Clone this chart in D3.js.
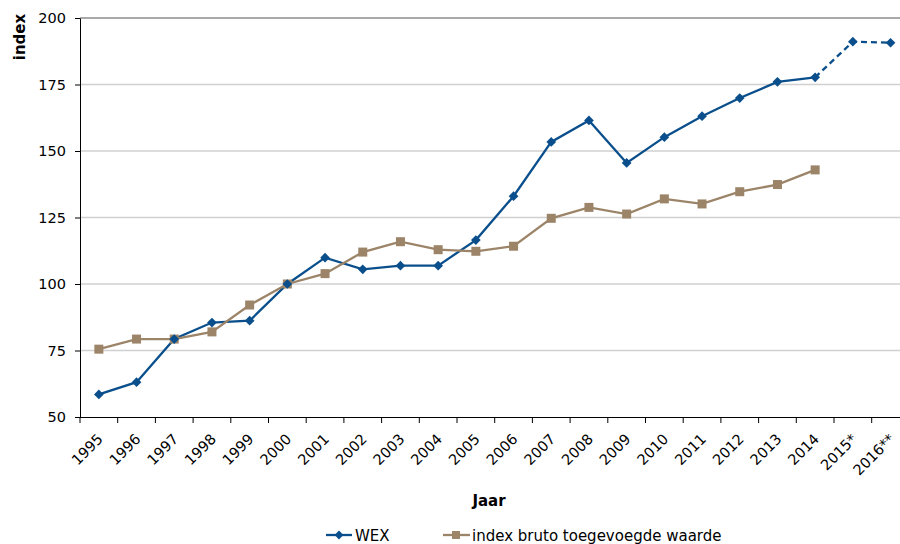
<!DOCTYPE html>
<html><head><meta charset="utf-8">
<script src="https://cdn.jsdelivr.net/npm/d3@7"></script>
<style>body{margin:0;background:#fff;}svg{display:block;font-family:"DejaVu Sans",Verdana,sans-serif;}</style>
</head><body>
<svg id="c" width="900" height="544"></svg>
<script>
const years = ["1995","1996","1997","1998","1999","2000","2001","2002","2003","2004","2005","2006","2007","2008","2009","2010","2011","2012","2013","2014","2015*","2016**"];
const wex = [58.5,63.1,79.3,85.5,86.2,100,109.9,105.5,106.9,106.9,116.5,133,153.4,161.5,145.5,155.2,163.1,169.9,176,177.7,191.1,190.7];
const bto = [75.5,79.3,79.3,82,92.1,100,103.9,112,115.9,112.9,112.3,114.2,124.7,128.8,126.3,132,130.1,134.7,137.4,142.9,null,null];
const yTicks = [50,75,100,125,150,175,200];
const seriesNames = ["WEX","index bruto toegevoegde waarde"];
const blue = "#0a4f8c", brown = "#9c8468";

const svg = d3.select("#c");
const L = 80, T = 18, B = 417, step = 37.7;
const x = d3.scaleBand().domain(years).range([L, L + step*years.length]).padding(0);
const y = d3.scaleLinear().domain([50,200]).range([B, T]);
const cx = d => x(d) + x.bandwidth()/2;

// gridlines
svg.append("g").selectAll("line").data(yTicks.filter(t=>t>50)).join("line")
  .attr("x1", L).attr("x2", 900).attr("y1", d=>y(d)).attr("y2", d=>y(d))
  .attr("stroke", d=> d===200 ? "#8c8c8c" : "#d0d0d0").attr("stroke-width", 1.3);

// y axis
const ya = svg.append("g").attr("transform",`translate(${L},0)`)
  .call(d3.axisLeft(y).tickValues(yTicks).tickSize(5).tickSizeOuter(0));
ya.select(".domain").attr("stroke","#000");
ya.selectAll(".tick line").attr("stroke","#000");
ya.selectAll(".tick text").attr("font-size","14.5px").attr("fill","#000").attr("font-family","DejaVu Sans, Verdana, sans-serif").attr("x",-14);

// x axis
const xa = svg.append("g").attr("transform",`translate(0,${B})`)
  .call(d3.axisBottom(x).tickSize(0).tickSizeOuter(0));
xa.select(".domain").attr("stroke","#000").attr("d", `M${L},0.5H900`);
xa.selectAll(".tick text").attr("font-size","14.5px").attr("fill","#000").attr("font-family","DejaVu Sans, Verdana, sans-serif")
  .attr("text-anchor","end").attr("dy",null).attr("y",0)
  .attr("transform","translate(5,23) rotate(-45)");
// tick marks between categories
svg.append("g").selectAll("line").data(years.map((d,i)=>i)).join("line")
  .attr("x1", i=>x(years[i])).attr("x2", i=>x(years[i])).attr("y1",B).attr("y2",B+6).attr("stroke","#000");

// lines
const line = d3.line().defined(d=>d.v!=null).x(d=>cx(d.k)).y(d=>y(d.v));
const wexD = years.map((k,i)=>({k,v:wex[i]}));
const btoD = years.map((k,i)=>({k,v:bto[i]}));
svg.append("path").datum(wexD.slice(0,20)).attr("d",line).attr("fill","none").attr("stroke",blue).attr("stroke-width",2.3);
svg.append("path").datum(wexD.slice(19)).attr("d",line).attr("fill","none").attr("stroke",blue).attr("stroke-width",2.3).attr("stroke-dasharray","6,4");
svg.append("path").datum(btoD).attr("d",line).attr("fill","none").attr("stroke",brown).attr("stroke-width",2.3);

// markers
svg.append("g").selectAll("rect").data(btoD.filter(d=>d.v!=null)).join("rect")
  .attr("x",d=>cx(d.k)-4.5).attr("y",d=>y(d.v)-4.5).attr("width",9).attr("height",9).attr("fill",brown);
svg.append("g").selectAll("path").data(wexD).join("path")
  .attr("d", d3.symbol().type(d3.symbolDiamond2).size(60))
  .attr("transform", d=>`translate(${cx(d.k)},${y(d.v)})`).attr("fill",blue);

// axis titles
svg.append("text").attr("transform","translate(25,37) rotate(-90)").attr("text-anchor","middle")
  .attr("font-size","15px").attr("font-weight","bold").text("index");
svg.append("text").attr("x",489).attr("y",506).attr("text-anchor","middle")
  .attr("font-size","15px").attr("font-weight","bold").text("Jaar");

// legend
const lg = svg.append("g");
lg.append("line").attr("x1",326).attr("x2",352).attr("y1",535).attr("y2",535).attr("stroke",blue).attr("stroke-width",2.3);
lg.append("path").attr("d", d3.symbol().type(d3.symbolDiamond2).size(50)).attr("transform","translate(339,535)").attr("fill",blue);
lg.append("text").attr("x",355).attr("y",541).attr("font-size","15px").text(seriesNames[0]);
lg.append("line").attr("x1",443).attr("x2",470).attr("y1",535).attr("y2",535).attr("stroke",brown).attr("stroke-width",2.3);
lg.append("rect").attr("x",452).attr("y",531).attr("width",8).attr("height",8).attr("fill",brown);
lg.append("text").attr("x",472).attr("y",541).attr("font-size","15px").text(seriesNames[1]);
</script>
</body></html>
